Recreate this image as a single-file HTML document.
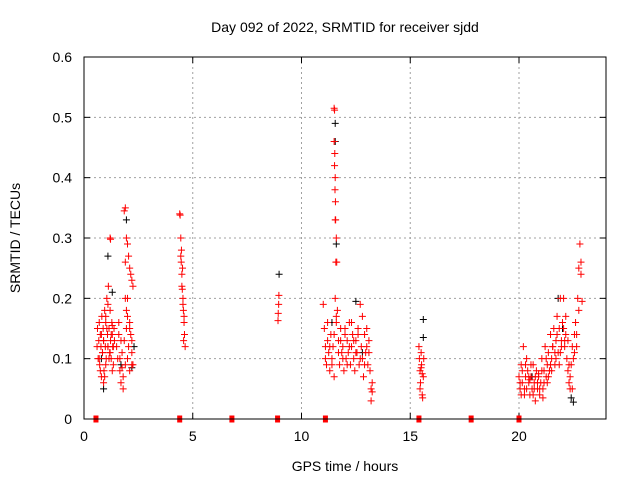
<!DOCTYPE html>
<html><head><meta charset="utf-8"><style>body{margin:0;background:#fff}svg{display:block}text{font-family:"Liberation Sans",sans-serif;font-size:14px;fill:#000}</style></head>
<body>
<svg id="c" width="640" height="480"></svg>
<script>
const xTicks=[0,5,10,15,20];
const yTicks=[0,0.1,0.2,0.3,0.4,0.5,0.6];
const yTickLabels=["0","0.1","0.2","0.3","0.4","0.5","0.6"];
const redT=[0.6,0.62,0.65,0.68,0.7,0.72,0.75,0.78,0.8,0.82,0.85,0.88,0.9,0.92,0.95,0.98,1.0,1.02,1.05,1.08,1.1,1.12,1.15,1.18,1.2,1.22,1.25,1.28,1.3,1.32,1.35,1.38,1.4,0.7,0.75,0.8,0.85,0.9,0.95,1.0,1.05,1.1,1.15,1.2,1.25,1.3,1.35,1.2,1.22,0.9,1.0,1.1,1.3,
1.5,1.55,1.6,1.65,1.7,1.75,1.8,1.85,1.9,1.95,2.0,2.05,2.1,2.15,2.2,2.25,1.6,1.7,1.8,1.9,2.0,2.1,2.2,1.85,1.9,1.95,2.0,2.05,2.1,2.15,2.2,2.25,1.9,1.95,2.0,2.1,2.2,1.65,1.75,
4.40,4.42,4.45,4.45,4.47,4.5,4.5,4.52,4.55,4.55,4.57,4.6,4.6,4.62,4.65,4.48,4.53,4.58,
8.92,8.93,8.95,8.96,
11.5,11.52,11.5,11.53,11.52,11.55,11.54,11.56,11.55,11.57,11.6,11.58,11.62,
11.0,11.05,11.1,11.15,11.2,11.25,11.3,11.35,11.4,11.45,11.5,11.55,11.6,11.65,11.7,11.75,11.8,11.85,11.9,11.95,12.0,12.05,12.1,12.15,12.2,12.25,12.3,12.35,12.4,12.45,12.5,12.55,12.6,12.65,12.7,12.75,12.8,12.85,12.9,12.95,13.0,13.05,13.1,13.15,13.2,13.25,
11.1,11.2,11.3,11.4,11.5,11.6,11.7,11.8,11.9,12.0,12.1,12.2,12.3,12.4,12.5,12.6,12.7,12.8,12.9,13.0,13.1,13.2,13.25,
15.4,15.42,15.45,15.47,15.5,15.52,15.55,15.57,15.6,15.62,15.45,15.5,15.55,
20.0,20.05,20.1,20.15,20.2,20.25,20.3,20.35,20.4,20.45,20.5,20.55,20.6,20.65,20.7,20.75,20.8,20.85,20.9,20.95,21.0,21.05,21.1,21.15,21.2,21.25,21.3,21.35,21.4,21.45,21.5,21.55,21.6,21.65,21.7,21.75,21.8,21.85,21.9,21.95,22.0,22.05,22.1,22.15,22.2,22.25,22.3,22.35,22.4,22.45,22.5,22.55,22.6,22.65,22.7,22.75,22.8,22.85,22.9,
20.05,20.15,20.25,20.35,20.45,20.55,20.65,20.75,20.85,20.95,21.05,21.15,21.25,21.35,21.45,21.55,21.65,21.75,21.85,21.95,22.05,22.15,22.25,22.35,22.45,22.55,22.65,22.75,22.85,
20.1,20.3,20.5,20.7,20.9,21.1,21.3,21.5,21.7,21.9,22.1,22.3];
const redV=[0.12,0.15,0.1,0.13,0.16,0.09,0.14,0.12,0.07,0.17,0.11,0.15,0.13,0.08,0.18,0.12,0.16,0.1,0.2,0.14,0.12,0.22,0.15,0.11,0.18,0.13,0.1,0.16,0.14,0.12,0.09,0.15,0.13,0.1,0.08,0.14,0.11,0.13,0.07,0.09,0.15,0.12,0.1,0.11,0.14,0.08,0.12,0.3,0.298,0.06,0.17,0.19,0.155,
0.12,0.1,0.14,0.08,0.06,0.11,0.05,0.13,0.09,0.15,0.1,0.12,0.08,0.14,0.11,0.09,0.16,0.13,0.07,0.2,0.17,0.15,0.13,0.345,0.35,0.3,0.29,0.27,0.25,0.24,0.23,0.22,0.26,0.18,0.2,0.16,0.09,0.1,0.085,
0.34,0.338,0.3,0.27,0.26,0.24,0.22,0.215,0.2,0.19,0.18,0.17,0.16,0.14,0.12,0.28,0.25,0.13,
0.163,0.175,0.19,0.205,
0.515,0.512,0.46,0.44,0.42,0.4,0.38,0.36,0.33,0.33,0.3,0.26,0.26,
0.19,0.15,0.12,0.09,0.13,0.11,0.08,0.14,0.1,0.12,0.07,0.2,0.16,0.18,0.13,0.09,0.15,0.11,0.12,0.08,0.14,0.1,0.13,0.11,0.16,0.09,0.12,0.14,0.1,0.08,0.13,0.11,0.15,0.09,0.19,0.12,0.1,0.07,0.14,0.11,0.12,0.09,0.13,0.08,0.05,0.06,
0.1,0.16,0.12,0.09,0.14,0.17,0.11,0.13,0.1,0.15,0.09,0.12,0.16,0.13,0.11,0.14,0.1,0.17,0.09,0.15,0.11,0.03,0.045,
0.12,0.1,0.08,0.06,0.11,0.09,0.04,0.035,0.07,0.1,0.05,0.085,0.075,
0.07,0.05,0.09,0.06,0.12,0.04,0.07,0.05,0.08,0.06,0.04,0.07,0.05,0.09,0.06,0.03,0.08,0.05,0.07,0.04,0.06,0.1,0.05,0.08,0.12,0.07,0.09,0.11,0.08,0.14,0.1,0.12,0.15,0.09,0.13,0.17,0.11,0.15,0.2,0.13,0.16,0.2,0.12,0.14,0.1,0.08,0.06,0.05,0.09,0.12,0.1,0.14,0.16,0.12,0.2,0.25,0.29,0.26,0.195,
0.06,0.08,0.05,0.1,0.07,0.09,0.04,0.07,0.06,0.05,0.08,0.06,0.1,0.07,0.09,0.12,0.11,0.14,0.09,0.12,0.15,0.17,0.13,0.07,0.05,0.11,0.14,0.18,0.24,
0.04,0.09,0.065,0.05,0.075,0.035,0.06,0.08,0.1,0.11,0.13,0.09];
const blackT=[0.9,1.1,1.95,2.2,11.55,11.55,11.6,12.5,22.4,22.5,21.8,8.97,15.6,15.6,1.3,2.3,0.8,1.7,11.4,12.8,20.6,22.0];
const blackV=[0.05,0.27,0.33,0.085,0.49,0.46,0.29,0.195,0.035,0.028,0.2,0.24,0.165,0.135,0.21,0.12,0.1,0.09,0.16,0.11,0.07,0.15];
const gapT=[0.55,4.4,6.8,8.9,11.1,15.4,17.8,20.0];
const NS='http://www.w3.org/2000/svg',svg=document.getElementById('c');
const L=84,R=606,T=57,B=419,XMAX=24,YMAX=0.6;
const X=t=>L+t/XMAX*(R-L),Y=v=>B-v/YMAX*(B-T);
function mk(tag,a,p){const e=document.createElementNS(NS,tag);for(const k in a)e.setAttribute(k,a[k]);(p||svg).appendChild(e);return e;}
yTicks.forEach((v,i)=>{const y=Y(v);
 if(i>0&&i<yTicks.length-1){const g=mk('line',{x1:L,x2:R,y1:y,y2:y,stroke:'#a0a0a0','stroke-dasharray':'2,3'});}
 mk('line',{x1:L,x2:L+6,y1:y,y2:y,stroke:'#000'});mk('line',{x1:R-6,x2:R,y1:y,y2:y,stroke:'#000'});
 const t=mk('text',{x:L-12,y:y+5,'text-anchor':'end'});t.textContent=yTickLabels[i];
 });
xTicks.forEach(v=>{const x=X(v);
 if(v>0){const g=mk('line',{x1:x,x2:x,y1:T,y2:B,stroke:'#a0a0a0','stroke-dasharray':'2,3'});}
 mk('line',{x1:x,x2:x,y1:B,y2:B-6,stroke:'#000'});mk('line',{x1:x,x2:x,y1:T,y2:T+6,stroke:'#000'});
 const t=mk('text',{x:x,y:B+22,'text-anchor':'middle'});t.textContent=String(v);
 });
function cross(t,v,col,name){const x=X(t),y=Y(v);const g=mk('path',{d:`M${x-3.5},${y}h7M${x},${y-3.5}v7`,stroke:col,'stroke-width':1,fill:'none'});
 }
blackT.forEach((t,i)=>cross(t,blackV[i],'#000','black-point'));
redT.forEach((t,i)=>cross(t,redV[i],'#f00','red-point'));
gapT.forEach(t=>{const r=mk('rect',{x:X(t)-2.5,y:B-3.5,width:5,height:7,fill:'#f00'});});
const f=mk('rect',{x:L,y:T,width:R-L,height:B-T,fill:'none',stroke:'#000'});
const ti=mk('text',{x:345,y:32,'text-anchor':'middle'});ti.textContent='Day 092 of 2022, SRMTID for receiver sjdd';
const xl=mk('text',{x:345,y:471,'text-anchor':'middle'});xl.textContent='GPS time / hours';
const yl=mk('text',{x:20,y:238,'text-anchor':'middle',transform:'rotate(-90 20 238)'});yl.textContent='SRMTID / TECUs';
</script>
</body></html>
